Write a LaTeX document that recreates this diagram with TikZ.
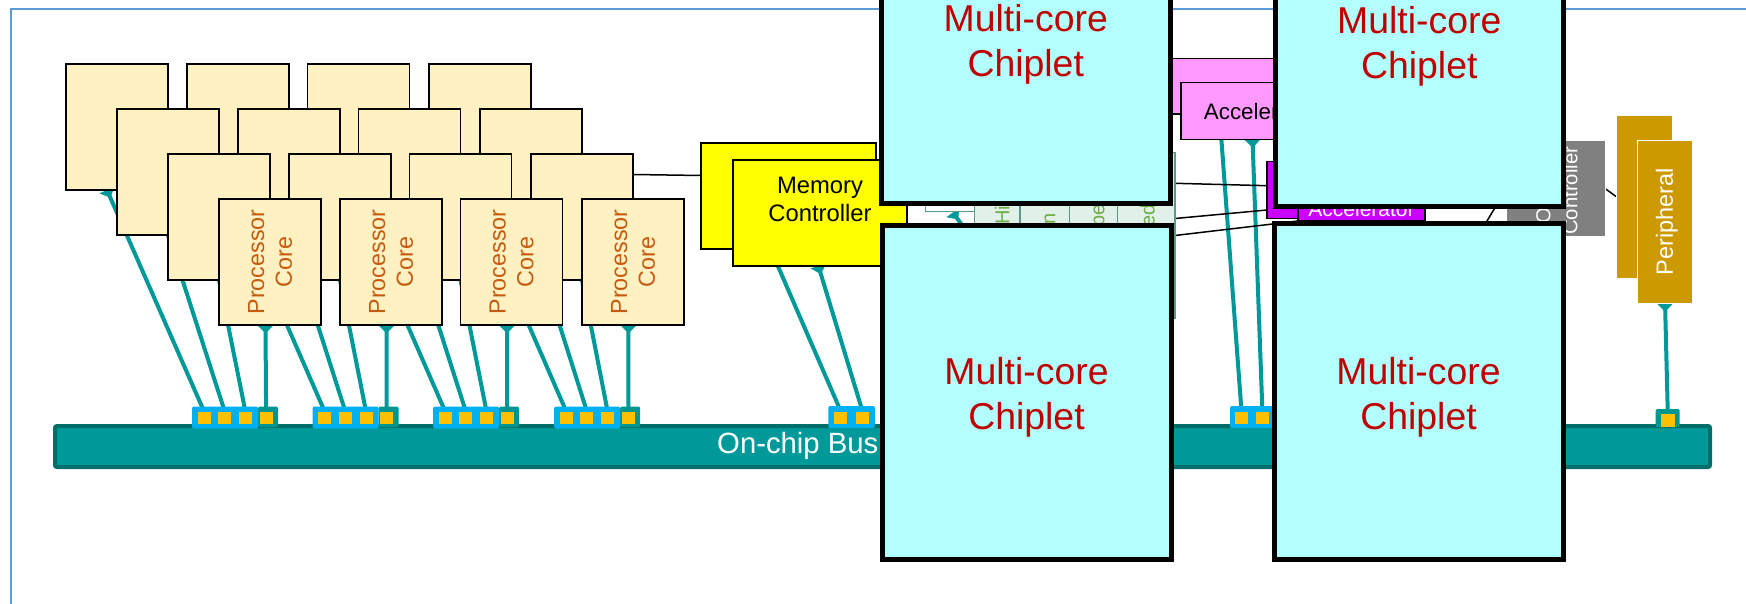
\documentclass[tikz,border=0pt]{standalone}
\usepackage{fontspec}
\setmainfont{Liberation Sans}
\usetikzlibrary{arrows.meta}

\definecolor{corefill}{HTML}{FFF1C1}
\definecolor{coretext}{HTML}{C55A11}
\definecolor{busteal}{HTML}{009999}
\definecolor{busedge}{HTML}{006E68}
\definecolor{portblue}{HTML}{00B0F0}
\definecolor{portteal}{HTML}{009690}
\definecolor{portsq}{HTML}{FFC000}
\definecolor{chipfill}{HTML}{B3FFFF}
\definecolor{chiptext}{HTML}{C00000}
\definecolor{memfill}{HTML}{FFFF00}
\definecolor{pinkacc}{HTML}{FF99FF}
\definecolor{purpacc}{HTML}{CC00FF}
\definecolor{iogray}{HTML}{808080}
\definecolor{perigold}{HTML}{CC9900}
\definecolor{framebl}{HTML}{5B9BD5}
\definecolor{stackfill}{HTML}{E2F0EA}
\definecolor{stackedge}{HTML}{5B9A86}
\definecolor{stacktext}{HTML}{70AD47}

\pgfdeclarelayer{bg}
\pgfdeclarelayer{wires}
\pgfsetlayers{bg,wires,main}

\begin{document}
\begin{tikzpicture}[x=1pt,y=-1pt,
  box/.style={draw=black, line width=1.5pt, inner sep=0pt, outer sep=0pt},
  corebox/.style={box, fill=corefill, minimum width=102pt, minimum height=126pt},
  corelbl/.style={rotate=90, align=center, inner sep=0pt, text=coretext,
    font=\fontsize{23.3}{27.8}\selectfont},
  chiplet/.style={draw=black, line width=5pt, fill=chipfill, inner sep=0pt},
  chiplbl/.style={align=center, inner sep=0pt, text=chiptext,
    font=\fontsize{37.4}{45}\selectfont},
  membox/.style={box, fill=memfill, minimum width=174pt, minimum height=106pt},
  memlbl/.style={align=center, inner sep=0pt, font=\fontsize{23.8}{28}\selectfont},
  pinkbox/.style={box, fill=pinkacc, minimum width=159pt, minimum height=56pt},
  purpbox/.style={box, fill=purpacc, minimum width=127pt, minimum height=56.6pt},
  stackbox/.style={draw=stackedge, line width=1.5pt, fill=stackfill, inner sep=0pt,
    outer sep=0pt, minimum height=165.6pt},
  stacklbl/.style={rotate=90, inner sep=0pt, text=stacktext,
    font=\fontsize{20}{24}\selectfont},
  goldbox/.style={draw=white, line width=1pt, fill=perigold, inner sep=0pt,
    outer sep=0pt, minimum width=55.6pt, minimum height=162.6pt},
  busbar/.style={draw=busedge, line width=4pt, fill=busteal, rounded corners=2pt,
    inner sep=0pt, minimum width=1655pt, minimum height=41pt},
  portb/.style={fill=portblue, rounded corners=2pt, inner sep=0pt,
    minimum width=66pt, minimum height=22pt},
  portt/.style={fill=portteal, rounded corners=2pt, inner sep=0pt,
    minimum width=20pt, minimum height=20.5pt},
  portsqr/.style={fill=portsq, inner sep=0pt, minimum width=13pt, minimum height=12pt},
  wire/.style={draw=busteal, line width=4pt},
  tipped/.style={arrows={Triangle[reversed,width=16pt,length=8.5pt]-}},
  link/.style={draw=black, line width=1.5pt},
]
\useasboundingbox (0,0) rectangle (1746,604);
\clip (0,0) rectangle (1746,604);

% outer frame and the shared bus
\begin{pgfonlayer}{bg}
  \draw[framebl, line width=1.5pt] (1760,9) -- (11,9) -- (11,620);
  \node[busbar] (bus) at (882.5,446.5) {};
\end{pgfonlayer}
\node[anchor=west, inner sep=0pt, text=white, font=\fontsize{29.3}{33}\selectfont]
  (buslbl) at (717,446) {On-chip Bus};

% bus ports of the four core columns
\foreach \c/\s in {0/0,1/120.6,2/241.1,3/362.2}{
  \node[portt] (pt\c) at (268+\s,416.75) {};
  \node[portb] (pb\c) at (225+\s,417.5) {};
  \foreach \k in {0,...,3}
    \node[portsqr] (s\c\k) at (204+\s+20.7*\k,417.5) {};
}
% memory controller port
\node[portb, minimum width=46.7pt] (mport) at (851.6,417) {};
\node[portsqr] (ms0) at (840.8,417.5) {};
\node[portsqr] (ms1) at (862.5,417.5) {};
% accelerator port
\node[portb, minimum width=46pt] (aport) at (1253,417) {};
\node[portsqr] (as0) at (1241.5,417.5) {};
\node[portsqr] (as1) at (1262.4,417.5) {};
% peripheral port
\node[portt, minimum width=24pt, minimum height=18pt] (pport) at (1667.7,418) {};
\node[portsqr, minimum width=13.6pt, minimum height=12.7pt] (ps0) at (1667.8,420.4) {};
\coordinate (hport) at (1090,406);

% processor cores, back row first
\foreach \r in {0,...,3}{
  \foreach \c/\s in {0/0,1/121,2/241.5,3/363}{
    \node[corebox] (c\r\c) at (117+\s+51*\r,127+45*\r) {};
  }
}
\foreach \c in {0,...,3}
  \node[corelbl] (lbl\c) at (c3\c) {Processor\\Core};

% memory controllers
\node[membox, minimum width=175pt] (mcb) at (788.5,196) {};
\node[membox] (mcf) at (820,213) {};
\node[memlbl] (mcfl) at (820,199) {Memory\\Controller};

% interface stack between the chiplets
\node[draw=stackedge, line width=1.5pt, fill=white, inner sep=0pt,
  minimum width=48.6pt, minimum height=61.7pt] (wb) at (950,180.85) {};
\node[stackbox, minimum width=45.7pt] (g0) at (997.15,235.5) {};
\node[stackbox, minimum width=49.3pt] (g1) at (1044.65,235.5) {};
\node[stackbox, minimum width=48pt] (g2) at (1093.3,235.5) {};
\node[stackbox, minimum width=57.7pt] (g3) at (1146.15,235.5) {};
\node[stacklbl] (g0l) at (1002,215) {Hi};
\node[stacklbl] (g1l) at (1050,219) {n};
\node[stacklbl] (g2l) at (1101,215) {pe};
\node[stacklbl] (g3l) at (1147.5,215) {ed};

% accelerators
\node[pinkbox, minimum height=55.7pt] (pkb) at (1228.5,86.15) {};
\node[pinkbox, minimum height=56.6pt] (pkf) at (1260.5,111) {};
\node[inner sep=0pt, font=\fontsize{22.4}{26}\selectfont] (pkfl) at (1260.5,111) {Accelerator};
\node[purpbox] (pub) at (1330.5,190) {};
\node[purpbox, minimum height=56.7pt] (puf) at (1361.5,192.65) {};
\node[inner sep=0pt, text=white, font=\fontsize{21}{25}\selectfont] (pufl) at (1361.5,209) {Accelerator};

% I/O controller and peripheral
\node[draw=white, line width=1pt, fill=iogray, inner sep=0pt,
  minimum width=98.3pt, minimum height=95.7pt] (io) at (1555.85,188.85) {};
\node[rotate=90, anchor=west, align=left, inner sep=0pt, text=white,
  font=\fontsize{20.3}{27}\selectfont] (iol) at (1556.5,235) {I/O\\Controller};
\coordinate (iohid) at (1450,283);
\node[goldbox, minimum width=55.9pt] (perb) at (1644.65,197) {};
\node[goldbox] (perf) at (1665.05,222) {};
\node[rotate=90, inner sep=0pt, text=white, font=\fontsize{23.5}{28}\selectfont]
  (perl) at (1666.7,221.5) {Peripheral};

% connections to the bus
\begin{pgfonlayer}{wires}
  \foreach \c in {0,...,3}{
    \draw[wire, tipped] ([xshift=-10pt]c0\c.south) -- (s\c0.north);
    \draw[wire] (c1\c.south) -- (s\c1.north);
    \draw[wire] (c2\c.south) -- (s\c2.north);
    \draw[wire, tipped] ([xshift=-4.5pt]c3\c.south) -- (s\c3.north);
  }
  \draw[wire, tipped] ([xshift=-18pt]mcb.south) -- (ms0.north);
  \draw[wire, tipped] ([xshift=-1.6pt]mcf.south) -- (ms1.north);
  \draw[wire, tipped] ([xshift=-9pt]pkb.south) -- (as0.north);
  \draw[wire, tipped] ([xshift=-8pt]pkf.south) -- (as1.north);
  \draw[wire, tipped] (perf.south) -- (ps0.north);
  \draw[wire, tipped] ([xshift=3pt]wb.south) -- (hport);
  % control links
  \draw[link] ([yshift=42.5pt]c23.east) -- ([yshift=20.5pt]mcb.west);
  \draw[link] ([yshift=52.2pt]g3.east) -- ([yshift=4.3pt]pub.west);
  \draw[link] ([yshift=17pt]g3.east) -- ([yshift=-20pt]pub.west);
  \draw[link] (g3.east) -- (puf.south west);
  \draw[link] (io.west) -- (iohid);
  \draw[link] (io.east) -- (perb.west);
\end{pgfonlayer}

% multi-core chiplets on top
\node[chiplet, minimum width=288.5pt, minimum height=333pt] (chTL) at (1025.75,37.5) {};
\node[chiplet, minimum width=289pt, minimum height=333.5pt] (chBL) at (1026.5,392.75) {};
\node[chiplet, minimum width=288.5pt, minimum height=333pt] (chTR) at (1419.25,40) {};
\node[chiplet, minimum width=289pt, minimum height=335pt] (chBR) at (1418.5,391.5) {};
\node[chiplbl] (chTLl) at (1025.75,44.2) {Multi-core\\Chiplet};
\node[chiplbl] (chBLl) at (1026.5,397.7) {Multi-core\\Chiplet};
\node[chiplbl] (chTRl) at (1419.25,45.9) {Multi-core\\Chiplet};
\node[chiplbl] (chBRl) at (1418.5,397.7) {Multi-core\\Chiplet};
\end{tikzpicture}
\end{document}
